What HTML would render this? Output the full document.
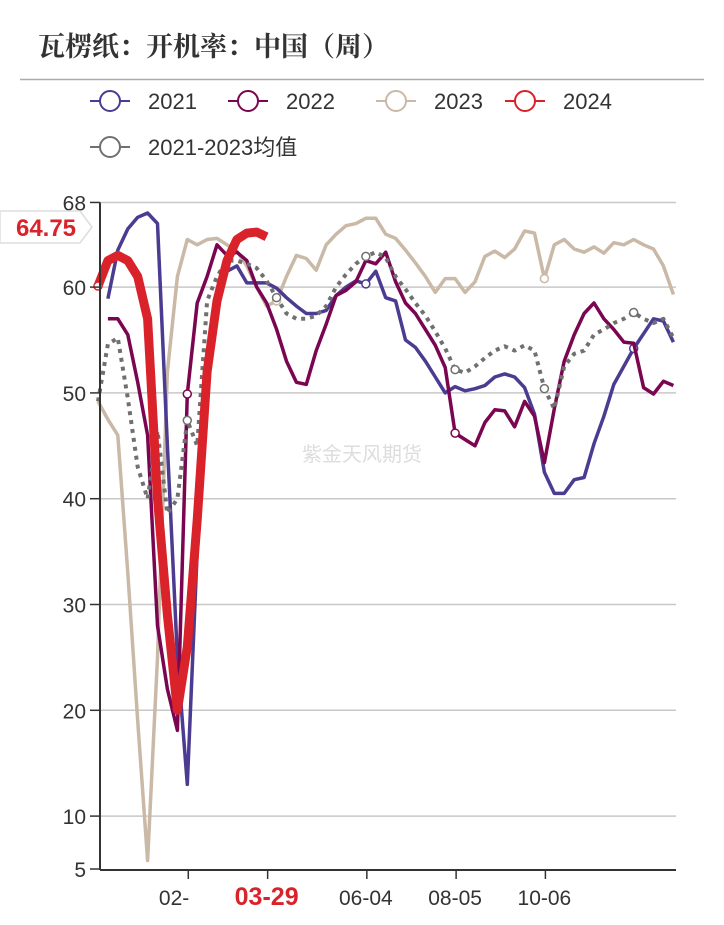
<!DOCTYPE html>
<html><head><meta charset="utf-8">
<style>
body{margin:0;background:#fff;width:724px;height:920px;overflow:hidden;font-family:"Liberation Sans","Noto Sans CJK SC",sans-serif;}
</style></head>
<body>
<svg id="chart" width="724" height="920" xmlns="http://www.w3.org/2000/svg" font-family="Liberation Sans, Noto Sans CJK SC, sans-serif">
<text x="38" y="56" font-size="27" font-weight="bold" fill="#333" font-family="Noto Serif CJK SC, Noto Sans CJK SC, serif">瓦楞纸：开机率：中国（周）</text>
<line x1="20" y1="79.5" x2="704" y2="79.5" stroke="#aaa" stroke-width="1.5"/>
<g id="legend"></g>
<g id="grid"></g>
<text x="362" y="461" font-size="20" fill="#ddd" text-anchor="middle" font-family="Noto Sans CJK SC, sans-serif">紫金天风期货</text>
<g id="series"></g>
<g id="axes"></g>
<g>
<path d="M0,211 L80,211 L92,227 L80,243 L0,243 Z" fill="#fff" stroke="#ddd" stroke-width="1.5"/>
<text x="46" y="236" font-size="24" font-weight="bold" fill="#d9222a" text-anchor="middle">64.75</text>
</g>
</svg>
<script>
const yTicks=[5,10,20,30,40,50,60,68];
const xLabels=[{i:9,t:"02-",anchor:"end",dx:2},{i:17,t:"03-29",red:true},{i:27,t:"06-04"},{i:36,t:"08-05"},{i:45,t:"10-06"}];
const s2021=[null,58.9,63.5,65.5,66.6,67.0,66.0,45,25,13,35,52,58,61.5,62,60.4,60.4,60.4,59.9,59,58.2,57.5,57.5,57.8,59.2,60,60.6,60.3,61.5,59,58.7,55,54.3,53,51.5,50,50.6,50.2,50.4,50.7,51.5,51.8,51.5,50.5,48,42.5,40.5,40.5,41.8,42,45.2,47.8,50.8,52.5,54.2,55.6,57,56.8,54.8];
const s2022=[null,57,57,55.5,51,46,28,22,18.1,49.9,58.5,61,64,63,63.3,62.5,60,58.5,56,53,51,50.8,54,56.5,59.2,59.7,60.5,62.5,62.2,63.3,60.5,58.5,57.5,56,54.5,52.4,46.2,45.6,45,47.2,48.4,48.3,46.8,49.2,47.8,43.4,48.5,53,55.5,57.5,58.5,57,56,54.8,54.7,50.5,49.9,51.1,50.7];
const s2023=[49.2,47.5,46,33,19,5.8,25,52,61,64.5,64,64.5,64.6,64,63.4,62,60,58.2,58.7,61,63,62.7,61.6,64,65,65.8,66,66.5,66.5,65,64.6,63.5,62.3,61,59.5,60.8,60.8,59.5,60.5,62.9,63.4,62.8,63.6,65.3,65.1,60.8,64,64.5,63.6,63.3,63.8,63.2,64.2,64,64.5,64,63.6,62,59.3];
const s2024=[60.1,62.5,63,62.5,61,57,40,29,20,26,38,52,58.7,62.5,64.5,65.1,65.2,64.75];
const sAvg=[49.2,54.6,55.2,49.5,43,40,46.4,38.6,40,47.4,45,58.7,61,62.5,62.5,62.2,61.8,60.6,59,57.5,57,57,57.3,58.2,60,61.2,62.2,62.9,63.3,62.8,61,59.8,58.5,57.3,55.8,54.2,52.2,51.9,52.5,53.3,54,54.4,54,54.5,54,50.4,48.5,52.5,53.7,54,55.5,56,56.6,57,57.6,57,56.6,57,55.2];
const NS="http://www.w3.org/2000/svg";
const X0=98,DX=9.92,L=100,R=676;
function x(i){return X0+DX*i;}
function y(v){return 869-(v-5)*10.58;}
function mk(tag,attrs,parent){const e=document.createElementNS(NS,tag);for(const k in attrs)e.setAttribute(k,attrs[k]);parent.appendChild(e);return e;}
const grid=document.getElementById('grid'),axes=document.getElementById('axes'),ser=document.getElementById('series'),leg=document.getElementById('legend');
yTicks.forEach(v=>{
 if(v>5){const g=mk('line',{x1:L,x2:R,y1:y(v),y2:y(v),stroke:'#c8c8c8','stroke-width':1.5},grid);
 
 }
 const t=mk('line',{x1:90,x2:L,y1:y(v),y2:y(v),stroke:'#333','stroke-width':1.5},axes);
 
 
 const lb=mk('text',{x:86,y:y(v)+8,'font-size':21,fill:'#333','text-anchor':'end'},axes);
 
 
 lb.textContent=v;
});
const ya=mk('line',{x1:L,x2:L,y1:y(68),y2:870,stroke:'#333','stroke-width':2},axes);


const xa=mk('line',{x1:L,x2:R,y1:870,y2:870,stroke:'#333','stroke-width':2},axes);


xLabels.forEach(o=>{
 const tk=mk('line',{x1:x(o.i)+1,x2:x(o.i)+1,y1:870,y2:879,stroke:'#333','stroke-width':1.5},axes);
 
 
 const tx=mk('text',{x:x(o.i)+(o.dx||0)-(o.anchor==='end'?0:0),y:905,'font-size':o.red?25:21,'font-weight':o.red?'bold':'normal',fill:o.red?'#d9222a':'#333','text-anchor':o.anchor||'middle'},axes);
 
 
 tx.textContent=o.t;
});
function draw(data,name,color,w,dash,markers){
 let d='';let pen=false;
 data.forEach((v,i)=>{if(v==null){pen=false;return;}d+=(pen?'L':'M')+x(i).toFixed(1)+','+y(v).toFixed(1);pen=true;});
 const p=mk('path',{d:d,fill:'none',stroke:color,'stroke-width':w,'stroke-linejoin':'round'},ser);
 if(dash)p.setAttribute('stroke-dasharray',dash);
 
 
 markers.forEach(i=>{if(data[i]==null)return;
  const c=mk('circle',{cx:x(i),cy:y(data[i]),r:4,fill:'#fff',stroke:color,'stroke-width':1.5},ser);
  
  });
}
draw(s2023,'line-2023','#c9b9a6',3.5,null,[18,45]);
draw(s2021,'line-2021','#4b3b91',3.5,null,[27,54]);
draw(s2022,'line-2022','#7a0651',3.5,null,[9,36]);
draw(sAvg,'line-avg','#707070',4,'4 5',[9,18,27,36,45,54]);
draw(s2024,'line-2024','#d9222a',9,null,[0]);
const items=[{n:'2021',c:'#4b3b91',x:90,y:101},{n:'2022',c:'#7a0651',x:228,y:101},{n:'2023',c:'#c9b9a6',x:376,y:101},{n:'2024',c:'#d9222a',x:505,y:101},{n:'2021-2023均值',c:'#707070',x:90,y:147}];
items.forEach(it=>{
 const g=mk('g',{},leg);
 
 
 mk('line',{x1:it.x,x2:it.x+40,y1:it.y,y2:it.y,stroke:it.c,'stroke-width':2},g);
 mk('circle',{cx:it.x+20,cy:it.y,r:10,fill:'#fff',stroke:it.c,'stroke-width':2},g);
 const t=mk('text',{x:it.x+58,y:it.y+8,'font-size':22,fill:'#333'},g);
 t.textContent=it.n;
});
</script>
</body></html>
